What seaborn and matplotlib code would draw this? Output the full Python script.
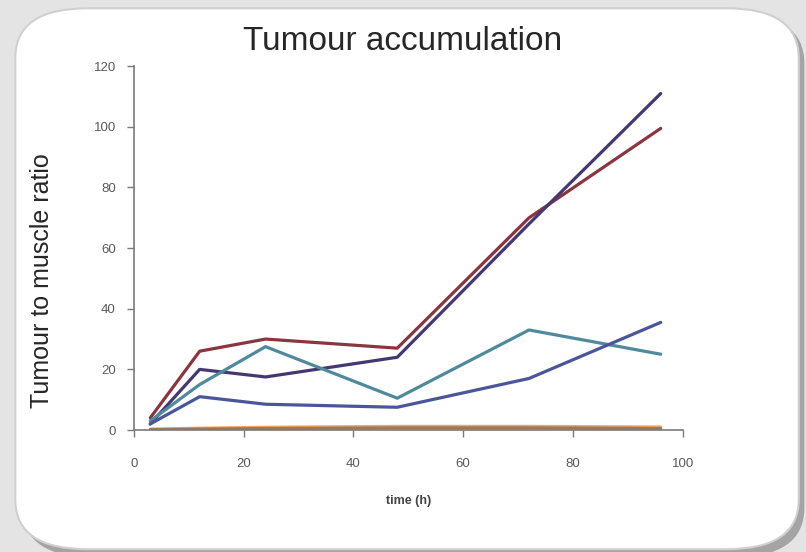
import pandas as pd
import matplotlib.pyplot as plt
import seaborn as sns
from matplotlib.patches import FancyBboxPatch

# Dados
tempo = [3, 12, 24, 48, 72, 96]
serie_vermelha = [4, 26, 30, 27, 70, 99.5]
serie_roxa = [2, 20, 17.5, 24, 68, 111]
serie_azul_clara = [3, 15, 27.5, 10.5, 33, 25]
serie_azul = [2, 11, 8.5, 7.5, 17, 35.5]
serie_laranja = [0.3, 0.6, 0.9, 1.2, 1.2, 1.0]
serie_marrom = [0.1, 0.3, 0.5, 0.7, 0.7, 0.5]

nomes = ["vermelha", "roxa", "azul_clara", "azul", "laranja", "marrom"]
valores = [serie_vermelha, serie_roxa, serie_azul_clara, serie_azul, serie_laranja, serie_marrom]
cores = ["#8a3540", "#453872", "#4f8a9c", "#4a5699", "#f0a868", "#9a7a5a"]

df = pd.DataFrame(
    [(n, t, v) for n, serie in zip(nomes, valores) for t, v in zip(tempo, serie)],
    columns=["serie", "tempo", "razao"],
)

sns.set_style("white")
plt.rcParams["font.family"] = ["Liberation Sans", "DejaVu Sans"]

fig = plt.figure(figsize=(8.06, 5.52), dpi=100)
fig.patch.set_facecolor("#e4e4e4")

# Caixa branca arredondada ao fundo, com sombra
sombra = FancyBboxPatch((0.028, -0.01), 0.97, 0.985,
                        boxstyle="round,pad=0,rounding_size=0.09",
                        transform=fig.transFigure, facecolor="#a4a4a4",
                        edgecolor="none", zorder=-3)
caixa = FancyBboxPatch((0.019, 0.005), 0.972, 0.98,
                       boxstyle="round,pad=0,rounding_size=0.09",
                       transform=fig.transFigure, facecolor="white",
                       edgecolor="#d0d0d0", linewidth=1.5, zorder=-2)
fig.add_artist(sombra)
fig.add_artist(caixa)

ax = fig.add_axes([0.166, 0.221, 0.681, 0.659])
ax.set_facecolor("none")
ax.set_zorder(1)

sns.lineplot(data=df, x="tempo", y="razao", hue="serie", hue_order=nomes,
             palette=cores, linewidth=2.3, legend=False, ax=ax)

ax.set_xlim(0, 100)
ax.set_ylim(0, 120)
ax.set_xticks(range(0, 101, 20))
ax.set_yticks(range(0, 121, 20))

for lado in ["top", "right"]:
    ax.spines[lado].set_visible(False)
for lado in ["left", "bottom"]:
    ax.spines[lado].set_color("#7a7a7a")
    ax.spines[lado].set_linewidth(1.2)

ax.tick_params(axis="both", which="both", direction="out", length=5,
               width=1, color="#7a7a7a", labelsize=9.5, labelcolor="#5a5a5a",
               left=True, bottom=True)
ax.tick_params(axis="x", pad=15)
ax.tick_params(axis="y", pad=8)

fig.text(0.5, 0.925, "Tumour accumulation", ha="center", va="center", fontsize=24,
         zorder=2)
ax.set_ylabel("Tumour to muscle ratio", fontsize=18)
ax.yaxis.set_label_coords(-0.145, 0.41)
ax.set_xlabel("time (h)", fontsize=9, fontweight="bold", color="#444444", labelpad=18)

plt.savefig("out.png", dpi=100, facecolor=fig.get_facecolor())
